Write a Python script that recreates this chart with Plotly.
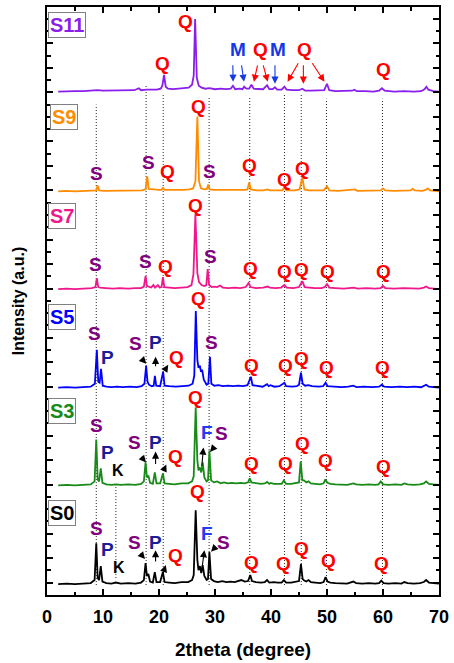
import plotly.graph_objects as go

# ---------------- data ----------------
# each pattern: (2theta, intensity above its own baseline, a.u.)
s0 = [(2.0,0),(3.5,0.5),(5.0,0),(6.5,0.8),(7.8,1),(8.5,4),(8.8,41),(9.05,6),(9.3,4),(9.6,18),(9.9,2.5),(10.6,1),
      (11.5,0.5),(12.3,1.5),(13.2,0.5),(14.5,1),(15.8,0.5),(16.8,1.5),(17.3,4),(17.6,21),(17.85,8),(18.1,10),(18.4,2.5),
      (18.9,1.5),(19.25,12),(19.55,2),(20.2,2),(20.7,12),(21.0,2),(21.8,1.5),(22.8,1),(24.0,2),(25.2,2),(25.9,4),(26.2,9),
      (26.55,74),(26.85,24),(27.05,14),(27.3,18),(27.55,11),(27.8,19),(28.1,8),(28.5,4),(28.75,5),(29.0,32),(29.3,5),
      (29.8,3),(30.5,2),(31.3,3),(32.0,2),(32.8,2.5),(33.5,2),(34.2,3),(34.7,4),(35.3,2.5),(35.9,3),(36.3,9),(36.6,3),
      (37.3,2),(38.2,1.5),(38.9,2),(39.3,4),(39.7,1.5),(40.5,2),(41.2,1.5),(41.9,1.5),(42.3,4),(42.7,1.5),(43.6,1.5),
      (44.5,2),(45.0,3),(45.35,20),(45.65,5),(45.95,3.5),(46.3,2.5),(46.7,4),(47.1,2),(47.9,1.5),(48.8,1),(49.4,2),
      (49.75,7),(50.1,2.5),(50.6,1.5),(51.5,1),(52.5,1),(53.6,0.5),(54.7,2.5),(55.2,1),(56.3,0.5),(57.5,1),(58.6,0.5),
      (59.3,1),(59.7,3.5),(60.1,1),(61.0,0.5),(62.2,1),(63.3,0.5),(63.8,2),(64.4,1),(65.5,0.5),(66.6,1),(67.3,2),
      (67.7,4),(68.2,1.5),(69.0,1),(70.0,0.5)]
s3 = [(2.0,0),(3.5,0.5),(5.0,0),(6.5,0.8),(7.8,1),(8.5,4),(8.8,46),(9.05,6),(9.3,4),(9.6,17),(9.9,2.5),(10.6,1),
      (11.5,0.5),(12.3,1),(13.2,0.5),(14.5,1),(15.8,0.5),(16.8,1.5),(17.3,4),(17.6,23),(17.85,8),(18.1,10),(18.4,2.5),
      (18.9,1.5),(19.25,13),(19.55,2),(20.2,2),(20.7,12),(21.0,2),(21.8,1.5),(22.8,1),(24.0,2),(25.2,2),(25.9,4),(26.2,9),
      (26.55,78),(26.85,25),(27.05,15),(27.3,18),(27.55,13),(27.8,23),(28.1,8),(28.5,4),(28.75,5),(29.0,35),(29.3,5),
      (29.8,3),(30.4,4),(31.0,2),(31.6,3),(32.3,2),(33.0,2.5),(33.8,2),(34.6,2.5),(35.3,2),(35.9,3),(36.2,7),(36.5,3),
      (37.3,2),(38.2,1.5),(38.9,2),(39.3,3.5),(39.7,1.5),(39.95,2.5),(40.5,1.5),(41.2,1.5),(41.9,1.5),(42.3,5),(42.7,1.5),
      (43.6,1.5),(44.5,2),(45.0,3),(45.3,24),(45.6,5),(45.9,5),(46.3,3),(46.7,4),(47.1,2),(47.9,1.5),(48.8,1),(49.4,2),
      (49.7,6),(50.1,2.5),(50.6,1.5),(51.5,1),(52.5,1),(53.6,0.5),(54.7,2),(55.2,1),(56.3,0.5),(57.5,1),(58.6,0.5),
      (59.2,1),(59.6,4),(60.0,1),(61.0,0.5),(62.2,1),(63.3,0.5),(63.8,2),(64.4,1),(65.5,0.5),(66.6,1),(67.3,2),
      (67.7,4),(68.2,1.5),(69.0,1),(70.0,0.5)]
s5 = [(2.0,0),(3.5,0.5),(5.0,0),(6.5,0.5),(7.8,1),(8.55,4),(8.9,38),(9.15,6),(9.4,5),(9.65,19),(9.95,2),(10.6,1),
      (11.5,0.5),(12.5,1),(13.5,0.5),(14.8,1),(16.0,0.5),(16.9,1.5),(17.4,4),(17.7,22),(17.95,6),(18.2,3),(18.7,1.5),
      (19.05,2),(19.27,12),(19.5,2),(20.2,1.5),(20.74,16),(21.0,2),(21.8,1.5),(23.0,1),(24.2,1.5),(25.3,2),(26.0,4),
      (26.3,12),(26.57,77),(26.85,28),(27.05,20),(27.3,22),(27.5,16),(27.7,18),(28.0,8),(28.5,3),(28.8,4),(29.1,31),
      (29.35,4),(29.9,2),(30.6,2.5),(31.4,1.5),(32.3,2),(33.2,1.5),(34.2,2),(35.0,1.5),(35.8,2.5),(36.4,11),(36.7,2.5),
      (37.5,1.5),(38.5,1),(39.3,3.5),(39.6,1.5),(39.9,2.5),(40.6,1),(41.5,1.5),(42.4,5),(42.7,1.5),(43.8,1),(44.6,1.5),
      (45.0,3),(45.35,15),(45.65,4),(46.1,2),(46.7,2.5),(47.3,1.5),(48.5,1),(49.3,1.5),(49.75,5),(50.1,1.5),(51.2,1),
      (52.6,0.5),(53.8,1),(54.7,2),(55.3,0.5),(56.6,1),(58.0,0.5),(59.3,1),(59.8,3),(60.2,1),(61.5,0.5),(63.0,1),
      (64.3,0.5),(65.6,1),(66.8,0.5),(67.3,1.5),(67.7,3),(68.2,1),(69.2,0.5),(70.0,0)]
s7 = [(2.0,0),(3.5,0.5),(5.0,0),(6.5,0.5),(8.0,1),(8.65,2),(8.9,11),(9.15,2),(9.5,1.5),(10.5,1),(11.8,0.5),(13.0,1),
      (14.5,0.5),(15.8,1),(16.8,1),(17.3,2.5),(17.6,13),(17.85,3),(18.3,2),(18.6,1.5),(19.0,4),(19.3,1.5),(19.8,4),
      (20.1,1.5),(20.45,2),(20.7,12),(20.95,2),(21.8,1.5),(22.8,1),(24.0,1.5),(25.1,2),(25.8,4),(26.15,15),(26.5,75),
      (26.85,16),(27.15,7),(27.6,4),(28.1,3),(28.45,4),(28.7,20),(28.95,4),(29.4,2),(29.9,2.5),(30.4,2),(30.9,3.5),
      (31.4,1.5),(32.4,1),(33.5,1.5),(34.5,1),(35.5,2),(36.0,6),(36.35,2),(37.3,1),(38.6,1.5),(39.4,2.5),(39.8,1.5),
      (40.8,1),(41.8,1.5),(42.4,4),(42.8,1.5),(44.0,1),(45.0,2),(45.6,8),(46.0,2),(46.8,1.5),(47.8,1),(49.0,1),(49.6,2),
      (50.0,5),(50.4,1.5),(51.5,1),(53.0,0.5),(54.8,1.5),(55.5,0.5),(57.0,1),(58.6,0.5),(59.6,1),(60.0,3),(60.4,1),
      (62.0,0.5),(63.6,1),(65.2,1),(66.5,0.5),(67.3,1.5),(67.7,2.5),(68.2,1),(69.2,0.5),(70.0,0)]
s9 = [(2.0,0),(3.5,0.5),(5.0,0),(6.5,0.5),(8.0,0.5),(8.8,1),(9.05,6),(9.3,1),(10.2,0.5),(11.5,0.5),(13.0,0.5),
      (14.5,0.5),(16.0,0.5),(17.0,1),(17.6,2),(17.9,15),(18.15,2.5),(18.8,2),(19.4,1.5),(20.0,1.5),(20.45,1.5),
      (20.7,3.5),(21.0,1.5),(22.0,1.5),(23.2,1),(24.4,1.5),(25.4,2),(26.1,3),(26.5,10),(26.85,75),(27.15,10),(27.5,3),
      (28.1,2),(28.55,2.5),(28.8,7),(29.05,2),(29.8,1.5),(30.8,1.5),(32.0,1),(33.2,1),(34.4,1),(35.4,1.5),(35.8,2),
      (36.1,9),(36.4,2),(37.4,1),(38.7,1),(39.4,2),(39.8,1),(41.0,1),(42.0,1),(42.4,4),(42.8,1),(44.2,1),(45.1,2),
      (45.6,14),(45.95,2),(46.8,1),(48.0,1),(49.4,1),(50.0,5),(50.4,1),(52.0,0.5),(53.6,1),(55.0,2),(55.4,0.5),
      (57.0,0.5),(58.8,1),(59.6,1),(60.0,3),(60.4,1),(62.0,0.5),(63.5,0.5),(64.9,1),(65.3,2.5),(65.7,1),(67.0,0.5),
      (67.6,1.5),(68.0,3),(68.4,1),(69.3,0.5),(70.0,0)]
s11 = [(2.0,0),(3.5,0.5),(5.0,0.5),(6.5,0.5),(8.0,1),(9.0,1.5),(10.0,1),(11.5,1),(13.0,1.5),(14.5,1),(15.6,1.5),
       (16.4,3.5),(16.8,1.5),(17.8,2),(18.8,2),(19.6,2),(20.3,3),(20.6,6),(20.9,17),(21.2,5),(21.6,3),(22.5,2.5),
       (23.5,3),(24.5,3.5),(25.3,4),(25.9,7),(26.2,16),(26.45,73),(26.75,14),(27.1,6),(27.6,4),(28.3,3),(29.0,3.5),
       (30.0,2.5),(31.0,3),(32.0,2.5),(32.8,3),(33.2,6),(33.6,2.5),(34.4,3),(34.9,2.5),(35.2,5),(35.6,3),(36.1,3),
       (36.5,7),(36.9,3),(37.6,2.5),(38.6,2.5),(39.3,6.5),(39.7,2.5),(40.3,2.5),(40.7,4.5),(41.1,2),(41.9,2),(42.4,5),
       (42.8,2),(43.8,1.5),(45.0,1.5),(45.6,3),(46.1,1),(47.2,1),(48.5,1),(49.5,1.5),(50.0,8),(50.4,1.5),(51.5,0.5),
       (53.0,0.5),(54.5,1),(54.9,2),(55.3,0.5),(56.8,0.5),(58.3,0),(59.3,1),(59.8,3.5),(60.3,1),(62.0,0),(63.8,0.5),
       (65.5,0),(66.8,0.5),(67.4,2.5),(67.75,5),(68.1,2),(69.0,0.5),(70.0,0)]

samples = ["S0", "S3", "S5", "S7", "S9", "S11"]
patterns = [s0, s3, s5, s7, s9, s11]
offsets = [11, 110, 208, 307, 405, 505]
colors = ["#000000", "#178A17", "#0000FF", "#F0168C", "#FF8C00", "#8A1EEB"]

# reference lines (2theta, top of line)
ref_lines = [(8.8, 492), (17.7, 512), (20.75, 503), (28.95, 500), (36.2, 500),
             (42.4, 502), (45.4, 502), (49.9, 498), (59.9, 498)]
k_line = (12.3, 113, 17)

# phase labels: (text, x, y)
labels = [
    # S11
    ("Q", 20.68, 533), ("Q", 24.75, 575), ("M", 34.12, 547), ("Q", 38.13, 547), ("M", 41.19, 547),
    ("Q", 46.01, 547), ("Q", 60.05, 527),
    # S9
    ("S", 8.89, 423), ("S", 18.08, 434), ("Q", 21.44, 425), ("Q", 27.05, 490), ("S", 28.94, 425),
    ("Q", 36.24, 431), ("Q", 42.43, 417), ("Q", 45.61, 428),
    # S7
    ("S", 8.66, 332), ("S", 17.5, 335), ("Q", 21.16, 330), ("Q", 26.57, 391), ("S", 29.11, 340),
    ("Q", 36.33, 328), ("Q", 42.43, 325), ("Q", 45.43, 327), ("Q", 50.03, 325), ("Q", 60.1, 325),
    # S5
    ("S", 8.49, 262), ("P", 10.73, 238), ("S", 15.73, 252), ("P", 19.39, 253), ("Q", 23.21, 238),
    ("Q", 27.05, 298), ("S", 29.4, 253), ("Q", 36.47, 230), ("Q", 42.66, 230), ("Q", 45.43, 237),
    ("Q", 49.9, 228), ("Q", 59.87, 228),
    # S3
    ("S", 8.79, 170), ("P", 10.84, 143), ("K", 12.6, 125), ("S", 15.56, 153), ("P", 19.39, 153),
    ("Q", 22.93, 139), ("Q", 26.57, 198), ("F", 28.51, 163), ("S", 31.17, 162), ("Q", 36.47, 132),
    ("Q", 42.66, 132), ("Q", 45.61, 152), ("Q", 49.73, 135), ("Q", 60.05, 129),
    # S0
    ("S", 8.89, 67), ("P", 10.84, 46), ("K", 12.78, 28), ("S", 15.68, 53), ("P", 19.39, 53),
    ("Q", 22.93, 40), ("Q", 26.87, 104), ("F", 28.51, 62), ("S", 31.47, 53), ("Q", 36.47, 33),
    ("Q", 42.25, 32), ("Q", 45.48, 47), ("Q", 50.33, 35), ("Q", 59.75, 32),
]
# arrows: (phase, tail x, tail y, head x, head y)
arrows = [
    ("M", 33.18, 533, 33.23, 515), ("M", 34.70, 533, 35.18, 515), ("Q", 37.65, 533, 36.95, 515),
    ("Q", 38.54, 533, 39.42, 515), ("M", 40.71, 533, 40.71, 513), ("Q", 45.02, 535, 42.96, 515),
    ("Q", 45.78, 533, 45.78, 513), ("Q", 47.2, 535, 49.55, 515),
    ("k", 16.74, 238, 17.73, 232), ("k", 19.39, 228, 19.39, 239), ("k", 20.86, 224, 21.65, 231),
    ("k", 16.62, 140, 17.68, 133), ("k", 19.39, 130, 19.39, 144), ("k", 20.68, 123, 21.3, 131),
    ("k", 27.63, 128, 27.93, 148), ("k", 29.79, 148, 29.11, 143.5),
    ("k", 16.44, 43, 17.5, 36), ("k", 19.39, 32, 19.39, 45), ("k", 20.59, 19, 21.21, 30),
    ("k", 27.63, 25, 28.11, 45), ("k", 30.05, 48, 29.29, 43.5),
]
box_pos = [(0.25, 82), (0.25, 185), (0.25, 279), (0.25, 380), (0.55, 479.5), (0.25, 571.5)]

phase_colors = {"Q": "#FF0000", "S": "#800080", "P": "#1C1C96", "M": "#1438E6",
                "F": "#1E3CF0", "K": "#000000", "k": "#000000"}

FONT = "Liberation Sans, Arial, sans-serif"

fig = go.Figure()
for name, pat, off, col in zip(samples, patterns, offsets, colors):
    xs = [p[0] for p in pat]
    ys = [off + p[1] for p in pat]
    fig.add_trace(go.Scatter(x=xs, y=ys, mode="lines", name=name,
                             line=dict(color=col, width=1.8), showlegend=False))

shapes = []
for x, top in ref_lines:
    shapes.append(dict(type="line", xref="x", yref="y", x0=x, x1=x, y0=10, y1=top,
                       line=dict(color="#222222", width=1, dash="1px,2px"), layer="below"))
shapes.append(dict(type="line", xref="x", yref="y", x0=k_line[0], x1=k_line[0], y0=k_line[2], y1=k_line[1],
                   line=dict(color="#222222", width=1, dash="1px,2px"), layer="below"))

annotations = []
for t, x, y in labels:
    annotations.append(dict(x=x, y=y, xref="x", yref="y", text=t, showarrow=False,
                            font=dict(family=FONT, size=16 if t == "K" else 19, color=phase_colors[t],
                                      weight="bold")))
for ph, tx, ty, hx, hy in arrows:
    annotations.append(dict(x=hx, y=hy, ax=tx, ay=ty, xref="x", yref="y", axref="x", ayref="y",
                            text="", showarrow=True, arrowhead=2, arrowsize=1.3, arrowwidth=1.1,
                            arrowcolor=phase_colors[ph]))
for name, col, (bx, by) in zip(samples, colors, box_pos):
    annotations.append(dict(x=bx, y=by, xref="x", yref="y", xanchor="left", text=name, showarrow=False,
                            font=dict(family=FONT, size=20, color=col, weight="bold"),
                            bgcolor="white", bordercolor="#808080", borderwidth=1, borderpad=1))

fig.update_layout(
    width=454, height=663,
    margin=dict(l=47, r=11, t=5, b=68),
    paper_bgcolor="white", plot_bgcolor="white",
    shapes=shapes, annotations=annotations,
    xaxis=dict(range=[0, 70], dtick=10, tick0=0, ticks="inside", ticklen=6, tickwidth=1.5,
               tickcolor="black", showline=True, linewidth=2, linecolor="black", mirror="ticks",
               showgrid=False, zeroline=False, ticklabelstandoff=4,
               tickfont=dict(family=FONT, size=18, color="black", weight="bold"),
               minor=dict(dtick=5, ticks="inside", ticklen=3.5, tickwidth=1.5, tickcolor="black"),
               title=dict(text="2theta (degree)", standoff=17,
                          font=dict(family=FONT, size=19, color="black", weight="bold"))),
    yaxis=dict(range=[0, 590], tick0=12.3, dtick=24.6, ticks="inside", ticklen=6, tickwidth=1.5,
               tickcolor="black", showline=True, linewidth=2, linecolor="black", mirror="ticks",
               showgrid=False, zeroline=False, showticklabels=False,
               minor=dict(tick0=0, dtick=12.3, ticks="inside", ticklen=3.5, tickwidth=1.5, tickcolor="black"),
               title=dict(text="Intensity (a.u.)", standoff=16,
                          font=dict(family=FONT, size=16, color="black", weight="bold"))),
)

fig.write_html("out.html")
